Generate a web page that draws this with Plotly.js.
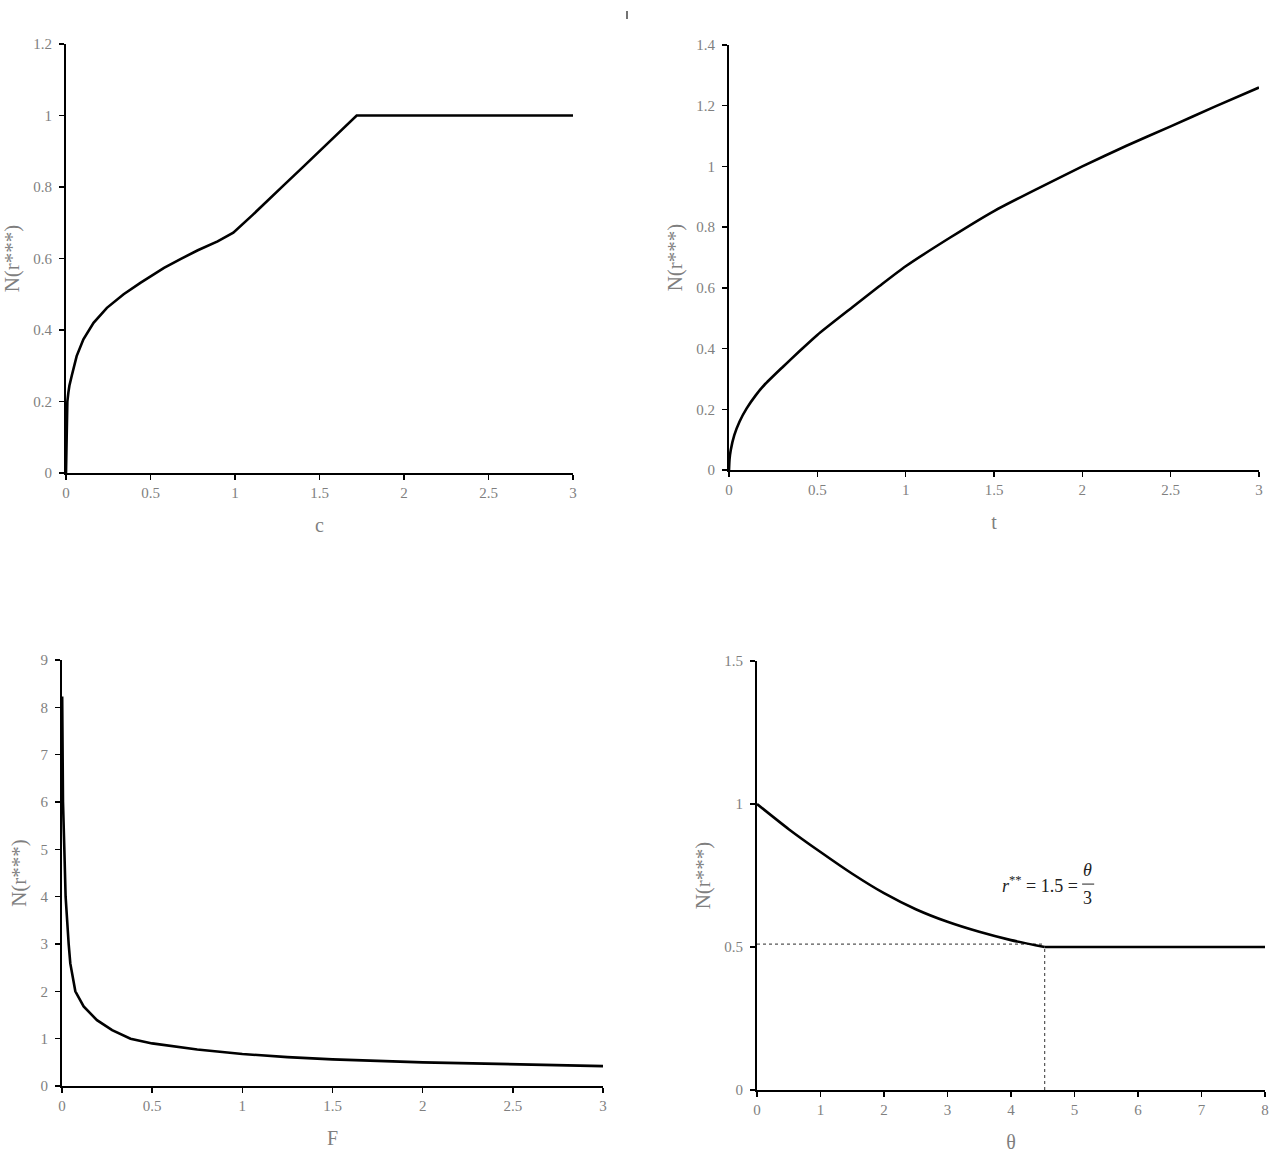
<!DOCTYPE html>
<html>
<head>
<meta charset="utf-8">
<script src="https://cdn.plot.ly/plotly-3.0.1.min.js"></script>
<style>
  html, body { margin: 0; padding: 0; background: #fff; }
  #chart { width: 1284px; height: 1160px; }
</style>
</head>
<body>
<div id="chart"></div>
<script>
// panel a: N(r***) against c
var cVals = [0, 0.002, 0.005, 0.008, 0.014, 0.02, 0.034, 0.063, 0.103, 0.163, 0.242, 0.341, 0.44, 0.5, 0.58, 0.68, 0.78, 0.897, 0.99, 1.1, 1.2, 1.3, 1.4, 1.5, 1.6, 1.72, 2, 2.5, 3];
var nByC  = [0, 0.1, 0.16, 0.2, 0.225, 0.244, 0.272, 0.327, 0.374, 0.42, 0.462, 0.5, 0.532, 0.549, 0.574, 0.599, 0.623, 0.648, 0.672, 0.72, 0.766, 0.81, 0.855, 0.9, 0.945, 1.0, 1.0, 1.0, 1.0];

// panel b: N(r***) against t
var tVals = [0, 0.003, 0.01, 0.03, 0.06, 0.1, 0.15, 0.2, 0.3, 0.4, 0.5, 0.7, 0.85, 1, 1.25, 1.5, 1.75, 2, 2.25, 2.5, 2.75, 3];
var nByT  = [0, 0.035, 0.066, 0.115, 0.16, 0.203, 0.245, 0.28, 0.337, 0.392, 0.445, 0.537, 0.605, 0.671, 0.765, 0.853, 0.928, 1.0, 1.068, 1.132, 1.197, 1.26];

// panel c: N(r***) against F
var fVals = [0.001, 0.002, 0.0055, 0.013, 0.02, 0.037, 0.046, 0.074, 0.12, 0.194, 0.278, 0.38, 0.5, 0.75, 1, 1.25, 1.5, 2, 2.5, 3];
var nByF  = [8.23, 7, 6, 5, 4, 3, 2.59, 2, 1.68, 1.39, 1.18, 1.0, 0.9, 0.77, 0.676, 0.61, 0.563, 0.5, 0.455, 0.42];

// panel d: N(r***) against theta (falling part, then flat)
var thetaVals = [0, 0.5, 1, 1.5, 2, 2.5, 3, 3.5, 4, 4.53];
var nByTheta  = [1, 0.912, 0.832, 0.756, 0.688, 0.632, 0.588, 0.553, 0.524, 0.5];
var thetaFlat = [4.53, 8];
var nFlat     = [0.5, 0.5];
var thetaKink = 4.53;
var guideLevel = 0.51;

var serif = 'Liberation Serif, Times New Roman, serif';
var grey = '#7f7f7f';

function curve(x, y, xa, ya, shape) {
  return {x: x, y: y, xaxis: xa, yaxis: ya, type: 'scatter', mode: 'lines',
    line: {color: '#000', width: 2.6, shape: shape || 'linear', smoothing: 0.6}, hoverinfo: 'skip'};
}

function guide(x, y) {
  return {x: x, y: y, xaxis: 'x4', yaxis: 'y4', type: 'scatter', mode: 'lines',
    line: {color: '#555', width: 1.2, dash: 'dot'}, hoverinfo: 'skip'};
}

var data = [
  curve(cVals, nByC, 'x', 'y'),
  curve(tVals, nByT, 'x2', 'y2', 'spline'),
  curve(fVals, nByF, 'x3', 'y3'),
  guide([0, thetaKink], [guideLevel, guideLevel]),
  guide([thetaKink, thetaKink], [0, 0.5]),
  curve(thetaVals, nByTheta, 'x4', 'y4', 'spline'),
  curve(thetaFlat, nFlat, 'x4', 'y4')
];

function xAxis(domain, anchor, range, dtick, title) {
  return {
    domain: domain, anchor: anchor, range: range, dtick: dtick, tick0: 0,
    showgrid: false, zeroline: false, showline: true, linecolor: '#000', linewidth: 2,
    ticks: 'outside', ticklen: 5, tickwidth: 1.5, tickcolor: '#000',
    tickfont: {family: serif, size: 15, color: grey},
    title: {text: title, standoff: 18, font: {family: serif, size: 20, color: grey}}
  };
}

function yAxis(domain, anchor, range, dtick) {
  return {
    domain: domain, anchor: anchor, range: range, dtick: dtick, tick0: 0,
    showgrid: false, zeroline: false, showline: true, linecolor: '#000', linewidth: 2,
    ticks: 'outside', ticklen: 5, tickwidth: 1.5, tickcolor: '#000', ticklabelstandoff: 4,
    tickfont: {family: serif, size: 15, color: grey},
    title: {text: 'N(r***)', standoff: 8, font: {family: serif, size: 21, color: grey}}
  };
}

var W = 1284, H = 1160;
function dx(a, b) { return [a / W, b / W]; }
function dy(top, bottom) { return [1 - bottom / H, 1 - top / H]; }

var layout = {
  width: W, height: H,
  margin: {l: 0, r: 0, t: 0, b: 0},
  paper_bgcolor: '#fff', plot_bgcolor: '#fff',
  showlegend: false,
  xaxis:  xAxis(dx(66, 573),  'y',  [0, 3], 0.5, 'c'),
  yaxis:  yAxis(dy(44, 473),  'x',  [0, 1.2], 0.2),
  xaxis2: xAxis(dx(729, 1259), 'y2', [0, 3], 0.5, 't'),
  yaxis2: yAxis(dy(45, 470),  'x2', [0, 1.4], 0.2),
  xaxis3: xAxis(dx(62, 603),  'y3', [0, 3], 0.5, 'F'),
  yaxis3: yAxis(dy(660, 1086), 'x3', [0, 9], 1),
  xaxis4: xAxis(dx(757, 1265), 'y4', [0, 8], 1, 'θ'),
  yaxis4: yAxis(dy(661, 1090), 'x4', [0, 1.5], 0.5),
  annotations: [
    {xref: 'x4', yref: 'y4', x: 5.08, y: 0.72, xanchor: 'right', yanchor: 'middle', showarrow: false,
     text: '<i>r</i><sup>**</sup> = 1.5 =', font: {family: serif, size: 18, color: '#222'}},
    {xref: 'x4', yref: 'y4', x: 5.21, y: 0.727, xanchor: 'center', yanchor: 'bottom', showarrow: false,
     text: '<i>θ</i>', font: {family: serif, size: 18, color: '#222'}},
    {xref: 'x4', yref: 'y4', x: 5.21, y: 0.713, xanchor: 'center', yanchor: 'top', showarrow: false,
     text: '3', font: {family: serif, size: 18, color: '#222'}}
  ],
  shapes: [
    {type: 'line', xref: 'x4', yref: 'y4', x0: 5.12, x1: 5.31, y0: 0.72, y1: 0.72,
     line: {color: '#222', width: 1}},
    {type: 'line', xref: 'paper', yref: 'paper', x0: 627 / W, x1: 627 / W, y0: 1 - 19 / H, y1: 1 - 11 / H,
     line: {color: '#444', width: 1.5}}
  ]
};

Plotly.newPlot('chart', data, layout, {staticPlot: true});
</script>
</body>
</html>
